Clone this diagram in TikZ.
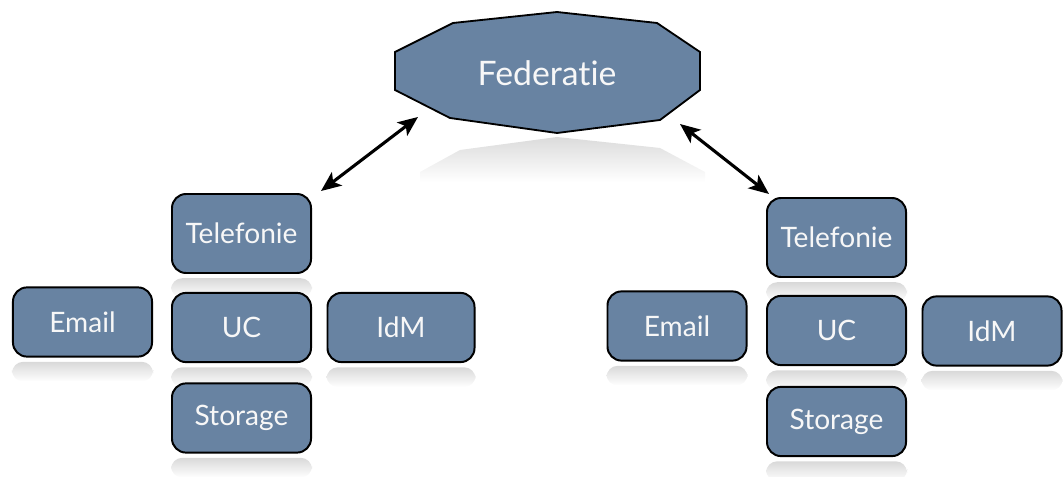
\documentclass[tikz,border=0pt]{standalone}
\usepackage{fontspec}
\usepackage{tikz}
\usetikzlibrary{backgrounds,arrows.meta}
\usepackage{xcolor}
\newfontfamily\boxfont[Ligatures={NoCommon,NoRare,NoContextual}]{Lato}
\definecolor{cslate}{RGB}{104,131,162}

\begin{document}
\begin{tikzpicture}[
    x=0.025cm, y=-0.025cm,
    >={Stealth[length=0.5cm,width=0.42cm,inset=0.12cm]},
    box/.style={draw=black, fill=cslate, rounded corners=10pt, line width=1.4pt,
                minimum width=3.475cm, minimum height=1.73cm, text=white!94!gray,
                font=\boxfont\fontsize{20}{23}\selectfont},
    tallbox/.style={box, minimum height=1.975cm},
    refl/.style={top color=gray!30, bottom color=white, rounded corners=8pt},
    arr/.style={<->, line width=2.2pt, color=black},
  ]
  \useasboundingbox (0,0) rectangle (1064,477);

  %% Top: Federatie
  \draw[fill=cslate, line width=1.3pt]
    (395,52) -- (453,23) -- (557,12) -- (657,23) -- (700,52) -- (700,90)
    -- (660,120) -- (557,133) -- (450,118) -- (395,90) -- cycle;
  \shade[top color=gray!28, bottom color=white]
    (420,172) -- (460,150) -- (557,137) -- (660,148) -- (705,172) -- (705,182) -- (420,182) -- cycle;
  \node[text=white!94!gray, font=\boxfont\fontsize{24}{27}\selectfont] (fed) at (547,73) {Federatie};

  %% Left group
  \node[tallbox] (tel1)  at (241.5,233.5) {Telefonie};
  \node[box]     (email1) at (82.5,322)    {Email};
  \node[box]     (uc1)   at (241.5,327.5) {UC};
  \node[box, minimum width=3.675cm] (idm1) at (401,327.5) {IdM};
  \node[box]     (stor1) at (241.5,418)   {Storage};

  %% Right group
  \node[tallbox] (tel2)  at (836.5,237.5) {Telefonie};
  \node[box]     (email2) at (677,326)    {Email};
  \node[box]     (uc2)   at (836.5,330.5) {UC};
  \node[box]     (idm2)  at (992,331)     {IdM};
  \node[box]     (stor2) at (836.5,421.5) {Storage};

  %% Reflections
  \begin{scope}[on background layer]
    \foreach \b in {tel1,email1,uc1,idm1,stor1,tel2,email2,uc2,idm2,stor2}
      \shade[refl] ([yshift=-3pt]\b.south west) rectangle ([yshift=-17pt]\b.south east);
  \end{scope}

  %% Arrows
  \coordinate (fedL) at (418,117);
  \coordinate (fedR) at (680,124);
  \coordinate (tel1in) at (321,191);
  \coordinate (tel2in) at (769,194);
  \draw[arr] (tel1in) -- (fedL);
  \draw[arr] (fedR) -- (tel2in);

\end{tikzpicture}
\end{document}
